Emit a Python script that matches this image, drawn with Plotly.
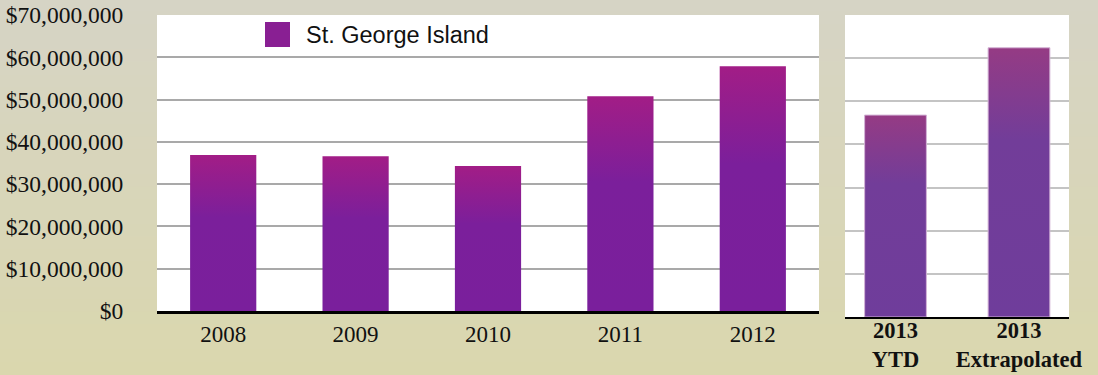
import plotly.graph_objects as go

# ---- data ----
years = ["2008", "2009", "2010", "2011", "2012"]
sales = [36.9e6, 36.6e6, 34.3e6, 50.8e6, 57.9e6]
proj_labels = ["2013<br>YTD", "2013<br>Extrapolated"]
proj_values = [46.8e6, 62.4e6]
series_name = "St. George Island"
y_ticks = [0, 10e6, 20e6, 30e6, 40e6, 50e6, 60e6, 70e6]
y_tick_labels = ["$0", "$10,000,000", "$20,000,000", "$30,000,000",
                 "$40,000,000", "$50,000,000", "$60,000,000", "$70,000,000"]

W, H = 1098, 375
SERIF = "Liberation Serif, Times New Roman, serif"
SANS = "Liberation Sans, Arial, Helvetica, sans-serif"
HALF = 0.25

fig = go.Figure()

main_scale = [[0, "#7a1f9c"], [0.6, "#7b1f9b"], [1, "#a21d86"]]
proj_scale = [[0, "#6f3d9b"], [0.66, "#723d99"], [1, "#953b84"]]

for i, v in enumerate(sales):
    fig.add_trace(go.Scatter(
        x=[i - HALF, i - HALF, i + HALF, i + HALF, i - HALF],
        y=[0, v, v, 0, 0], mode="lines", fill="toself",
        line=dict(width=0), fillgradient=dict(type="vertical", colorscale=main_scale),
        name=series_name, showlegend=False, hoverinfo="skip",
        xaxis="x", yaxis="y"))

for i, v in enumerate(proj_values):
    fig.add_trace(go.Scatter(
        x=[i - HALF, i - HALF, i + HALF, i + HALF, i - HALF],
        y=[0, v, v, 0, 0], mode="lines", fill="toself",
        line=dict(width=1, color="#d3b3d6"),
        fillgradient=dict(type="vertical", colorscale=proj_scale),
        name=series_name, showlegend=False, hoverinfo="skip",
        xaxis="x2", yaxis="y2"))

# background vertical gradient bands
shapes = []
N = 30
top_c = (214, 212, 197)
bot_c = (218, 215, 174)
for k in range(N):
    t = k / (N - 1)
    c = tuple(round(top_c[j] + (bot_c[j] - top_c[j]) * t) for j in range(3))
    shapes.append(dict(type="rect", xref="paper", yref="paper",
                       x0=0, x1=1, y0=1 - (k + 1) / N, y1=1 - k / N + 0.002,
                       fillcolor="rgb(%d,%d,%d)" % c, line=dict(width=0), layer="below"))
# white plot areas
for xr, yr in (("x domain", "y domain"), ("x2 domain", "y2 domain")):
    shapes.append(dict(type="rect", xref=xr, yref=yr, x0=0, x1=1, y0=0, y1=1,
                       fillcolor="white", line=dict(width=0), layer="below"))
# legend swatch
shapes.append(dict(type="rect", xref="paper", yref="paper",
                   x0=265 / W, x1=290 / W, y0=1 - 47 / H, y1=1 - 22 / H,
                   fillcolor="#891f93", line=dict(width=0), layer="above"))

fig.update_layout(
    template="none",
    width=W, height=H, margin=dict(l=0, r=0, t=0, b=0, pad=0),
    paper_bgcolor="#d8d6bc", plot_bgcolor="rgba(0,0,0,0)",
    showlegend=False, shapes=shapes,
    annotations=[dict(text=series_name, xref="paper", yref="paper",
                      x=304 / W, y=1 - 35 / H, xanchor="left", yanchor="middle",
                      showarrow=False, font=dict(family=SANS, size=23.5, color="#111"))],
    xaxis=dict(domain=[157 / W, 819 / W], range=[-0.5, 4.5], automargin=False,
               tickvals=list(range(len(years))), ticktext=years,
               showgrid=False, zeroline=False, showline=True, linecolor="black", linewidth=2.5,
               ticks="outside", ticklen=1, tickcolor="rgba(0,0,0,0)",
               tickfont=dict(family=SERIF, size=23, color="#111"), fixedrange=True),
    yaxis=dict(domain=[(H - 311) / H, (H - 15) / H], range=[0, 70e6], automargin=False,
               tickvals=y_ticks, ticktext=y_tick_labels,
               showgrid=True, gridcolor="#a9a9a9", gridwidth=2, zeroline=False, showline=False,
               ticks="outside", ticklen=28, tickcolor="rgba(0,0,0,0)",
               tickfont=dict(family=SERIF, size=23.5, color="#111"), fixedrange=True),
    xaxis2=dict(domain=[845 / W, 1069 / W], range=[-0.409, 1.405], anchor="y2", automargin=False,
                tickvals=list(range(len(proj_labels))), ticktext=proj_labels,
                showgrid=False, zeroline=False, showline=True, linecolor="black", linewidth=1.5,
                ticks="", ticklabelstandoff=-8,
                tickfont=dict(family=SERIF, size=22.5, color="#111", weight="bold"), fixedrange=True),
    yaxis2=dict(domain=[(H - 317) / H, (H - 15) / H], range=[0, 70e6], anchor="x2", automargin=False,
                tickvals=y_ticks, showticklabels=False, showline=False,
                showgrid=True, gridcolor="#c4c4c4", gridwidth=2, zeroline=False, fixedrange=True),
)

fig.write_html("out.html")
